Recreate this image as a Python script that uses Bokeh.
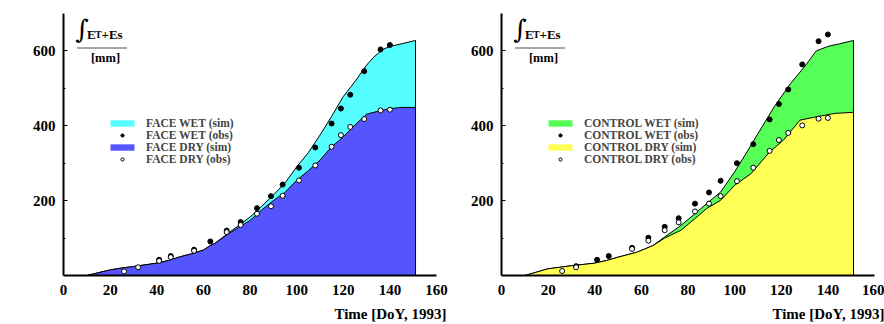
from bokeh.plotting import figure
from bokeh.models import (FixedTicker, Legend, LegendItem, Label, Range1d, Title)
from bokeh.layouts import row
from bokeh.embed import file_html
from bokeh.resources import INLINE

# ---------------- data ----------------
x_ticks = [0, 20, 40, 60, 80, 100, 120, 140, 160]
y_ticks = [200, 400, 600]
y_minor = [100, 300, 500]

face_wet_sim_day = [10, 20, 25, 30, 40, 45, 50, 55, 60, 63, 65, 70, 75, 80, 85, 90, 95, 100, 105, 110, 115, 120, 125, 130, 133, 137, 140, 145, 151]
face_wet_sim = [0, 15, 20, 24, 33, 40, 50, 58, 68, 80, 86, 110, 133, 156, 185, 215, 247, 290, 328, 375, 425, 478, 518, 562, 583, 604, 612, 619, 628]
face_dry_sim_day = [10, 20, 25, 30, 40, 45, 50, 55, 60, 63, 65, 70, 75, 80, 85, 90, 95, 100, 105, 110, 115, 120, 125, 130, 135, 140, 145, 151]
face_dry_sim = [0, 15, 20, 24, 33, 40, 50, 58, 68, 80, 86, 108, 128, 147, 175, 200, 222, 254, 280, 308, 344, 370, 402, 431, 439, 446, 449, 449]
face_wet_obs_day = [41, 46, 56, 63, 70, 76, 83, 89, 94, 101, 108, 115, 119, 123, 129, 136, 140]
face_wet_obs = [42, 52, 69, 91, 120, 143, 180, 212, 243, 288, 342, 406, 446, 483, 546, 604, 616]
face_dry_obs_day = [26, 32, 41, 46, 56, 70, 76, 83, 89, 94, 101, 108, 115, 119, 123, 129, 136, 140]
face_dry_obs = [11, 22, 39, 49, 66, 116, 135, 165, 185, 213, 254, 294, 344, 375, 397, 418, 441, 443]

ctrl_wet_sim_day = [10, 20, 25, 30, 40, 45, 50, 58, 65, 70, 77, 83, 88, 94, 100, 105, 110, 117, 124, 130, 135, 140, 145, 151]
ctrl_wet_sim = [0, 18, 22, 26, 33, 40, 49, 62, 80, 103, 134, 165, 192, 223, 277, 327, 379, 451, 513, 558, 600, 612, 619, 628]
ctrl_dry_sim_day = [10, 20, 25, 30, 40, 45, 50, 58, 65, 70, 77, 83, 88, 94, 100, 107, 115, 121, 128, 135, 143, 151]
ctrl_dry_sim = [0, 18, 22, 26, 33, 40, 49, 62, 80, 100, 121, 152, 179, 201, 241, 272, 330, 362, 415, 424, 433, 436]
ctrl_wet_obs_day = [32, 41, 46, 56, 63, 70, 76, 83, 89, 94, 101, 108, 115, 119, 123, 129, 136, 140]
ctrl_wet_obs = [25, 42, 52, 74, 101, 130, 153, 192, 222, 253, 300, 351, 417, 458, 497, 564, 626, 644]
ctrl_dry_obs_day = [26, 32, 56, 63, 70, 76, 83, 89, 94, 101, 108, 115, 119, 123, 129, 136, 140]
ctrl_dry_obs = [12, 22, 71, 93, 121, 142, 171, 192, 212, 252, 288, 333, 362, 381, 401, 419, 421]

FONT = "Liberation Serif"
X_MAX, Y_MAX = 160, 700
FW, FH = 373, 262


def px_x(px):  # horizontal pixel offset from frame left -> data
    return px * X_MAX / FW


def px_y(px):  # vertical pixel offset from frame bottom -> data
    return px * Y_MAX / FH


def panel(name, wet_color, dry_color, wet_day, wet, dry_day, dry,
          wobs_day, wobs, dobs_day, dobs, border_left, border_right):
    p = figure(output_backend="svg", toolbar_location=None,
               frame_width=FW, frame_height=FH,
               min_border_left=border_left, min_border_right=border_right,
               min_border_top=13, min_border_bottom=49,
               x_range=Range1d(0, X_MAX), y_range=Range1d(0, Y_MAX))
    p.outline_line_color = None
    p.grid.visible = False
    p.background_fill_color = "white"
    p.border_fill_color = "white"

    r_wet = p.varea(x=wet_day, y1=[0] * len(wet), y2=wet, fill_color=wet_color)
    p.line(x=wet_day + [wet_day[-1]], y=wet + [0], line_color="black", line_width=1)
    r_dry = p.varea(x=dry_day, y1=[0] * len(dry), y2=dry, fill_color=dry_color)
    p.line(x=dry_day + [dry_day[-1]], y=dry + [0], line_color="black", line_width=1)
    r_wobs = p.scatter(x=wobs_day, y=wobs, size=5, marker="circle",
                       fill_color="black", line_color="black")
    r_dobs = p.scatter(x=dobs_day, y=dobs, size=5, marker="circle",
                       fill_color="white", line_color="black", line_width=1)

    legend = Legend(items=[
        LegendItem(label=f"{name} WET (sim)", renderers=[r_wet]),
        LegendItem(label=f"{name} WET (obs)", renderers=[r_wobs]),
        LegendItem(label=f"{name} DRY (sim)", renderers=[r_dry]),
        LegendItem(label=f"{name} DRY (obs)", renderers=[r_dobs]),
    ], location=(44, 110))
    legend.padding = 0
    legend.margin = 0
    legend.spacing = 0
    legend.glyph_width = 30
    legend.glyph_height = 8
    legend.label_height = 11
    legend.label_standoff = 9
    legend.label_text_font = FONT
    legend.label_text_font_style = "bold"
    legend.label_text_font_size = "11.5px"
    legend.label_text_line_height = 1.0
    legend.border_line_alpha = 0
    legend.background_fill_alpha = 0
    p.add_layout(legend, "center")

    for ax in (p.xaxis[0], p.yaxis[0]):
        ax.axis_line_width = 2
        ax.axis_line_color = "black"
        ax.major_label_text_font = FONT
        ax.major_label_text_font_style = "bold"
        ax.major_label_text_font_size = "15px"
        ax.major_label_text_color = "black"
    p.xaxis.ticker = FixedTicker(ticks=x_ticks)
    p.xaxis.major_tick_in = 0
    p.xaxis.major_tick_out = 0
    p.xaxis.minor_tick_in = 0
    p.xaxis.minor_tick_out = 0
    p.xaxis.major_label_standoff = 9
    p.yaxis.ticker = FixedTicker(ticks=y_ticks, minor_ticks=y_minor)
    p.yaxis.major_tick_in = 4
    p.yaxis.major_tick_out = 0
    p.yaxis.minor_tick_in = 2
    p.yaxis.minor_tick_out = 0
    p.yaxis.major_label_standoff = 8

    # axis caption, right-aligned under the x axis
    p.add_layout(Title(text="Time [DoY, 1993]", align="right", offset=-10,
                       text_font=FONT, text_font_style="bold", text_font_size="15px",
                       text_color="black", standoff=12), "below")

    # y caption: integral ET+Es over [mm]
    p.add_layout(Label(x=px_x(18.5), y=px_y(247), text="\u222b",
                       text_font="DejaVu Serif", text_font_size="26px",
                       text_align="center", text_baseline="middle", text_color="black"))
    p.add_layout(Label(x=px_x(23.5), y=px_y(241.5), text="E",
                       text_font=FONT, text_font_style="bold", text_font_size="13px",
                       text_align="left", text_baseline="alphabetic", text_color="black"))
    p.add_layout(Label(x=px_x(31.5), y=px_y(241.5), text="T",
                       text_font=FONT, text_font_style="bold", text_font_size="10px",
                       text_align="left", text_baseline="alphabetic", text_color="black"))
    p.add_layout(Label(x=px_x(38), y=px_y(241.5), text="+Es",
                       text_font=FONT, text_font_style="bold", text_font_size="13px",
                       text_align="left", text_baseline="alphabetic", text_color="black"))
    p.segment(x0=[px_x(13.5)], y0=[px_y(227.5)], x1=[px_x(63.5)], y1=[px_y(227.5)],
              line_color="#888888", line_width=1.5)
    p.add_layout(Label(x=px_x(42), y=px_y(218), text="[mm]",
                       text_font=FONT, text_font_style="bold", text_font_size="12.5px",
                       text_align="center", text_baseline="middle", text_color="black"))
    return p


p1 = panel("FACE", "#55FFFF", "#5555FF",
           face_wet_sim_day, face_wet_sim, face_dry_sim_day, face_dry_sim,
           face_wet_obs_day, face_wet_obs, face_dry_obs_day, face_dry_obs, 63, 17)
p2 = panel("CONTROL", "#55FF55", "#FFFF55",
           ctrl_wet_sim_day, ctrl_wet_sim, ctrl_dry_sim_day, ctrl_dry_sim,
           ctrl_wet_obs_day, ctrl_wet_obs, ctrl_dry_obs_day, ctrl_dry_obs, 48, 10)

layout = row(p1, p2)
open("out.html", "w").write(file_html(layout, INLINE))
